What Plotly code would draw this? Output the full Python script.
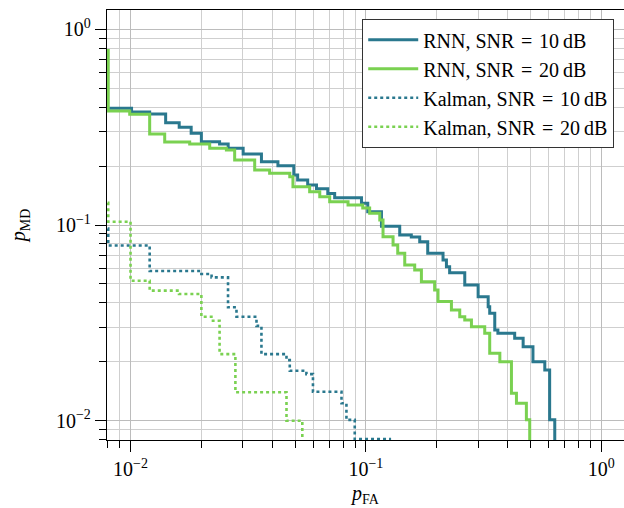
import plotly.graph_objects as go

# ---- data ----
rnn10_pfa = [0.005, 0.0101, 0.01206, 0.0141, 0.0161, 0.0181, 0.0200, 0.0239, 0.0260, 0.0301,
             0.0360, 0.0423, 0.0494, 0.0513, 0.0566, 0.0617, 0.0689, 0.0737, 0.0958, 0.1019,
             0.1165, 0.1393, 0.156, 0.1694, 0.1832, 0.2128, 0.220, 0.227, 0.2632, 0.300,
             0.331, 0.336, 0.353, 0.364, 0.429, 0.466, 0.513, 0.576, 0.604, 0.635]
rnn10_pmd = [0.395, 0.378, 0.369, 0.333, 0.316, 0.294, 0.2665, 0.259, 0.2465, 0.2306,
             0.2106, 0.201, 0.180, 0.170, 0.160, 0.153, 0.145, 0.138, 0.129, 0.1169,
             0.0985, 0.0889, 0.0868, 0.0821, 0.0717, 0.0662, 0.0612, 0.057, 0.0494, 0.0430,
             0.0382, 0.0354, 0.0291, 0.0280, 0.0264, 0.0239, 0.0200, 0.01816, 0.0101, 0.005]

rnn20_pfa = [0.005, 0.00804, 0.00992, 0.01206, 0.01397, 0.01784, 0.0217, 0.02555, 0.0277, 0.0337,
             0.039, 0.0475, 0.049, 0.0577, 0.0637, 0.0702, 0.084, 0.097, 0.1038, 0.1146,
             0.1183, 0.1305, 0.1366, 0.1463, 0.1613, 0.1722, 0.196, 0.2026, 0.231, 0.2506,
             0.2632, 0.281, 0.32, 0.336, 0.371, 0.4156, 0.4365, 0.481, 0.497]
rnn20_pmd = [0.78, 0.382, 0.368, 0.2917, 0.2655, 0.259, 0.2465, 0.2416, 0.2148, 0.191,
             0.1837, 0.1765, 0.157, 0.148, 0.1395, 0.1315, 0.1265, 0.122, 0.1148, 0.106,
             0.0871, 0.079, 0.0717, 0.0625, 0.0589, 0.0513, 0.0465, 0.0406, 0.0368, 0.034,
             0.0327, 0.0302, 0.028, 0.0221, 0.020, 0.0138, 0.01227, 0.0101, 0.005]

kal10_pfa = [0.005, 0.00804, 0.01206, 0.0200, 0.0221, 0.02596, 0.0282, 0.0343, 0.0360,
             0.0460, 0.0475, 0.0559, 0.0596, 0.0788, 0.0827, 0.0897, 0.128]
kal10_pmd = [0.096, 0.0786, 0.0582, 0.0562, 0.054, 0.038, 0.034, 0.0305, 0.0219,
             0.0204, 0.018, 0.0173, 0.01406, 0.01227, 0.0101, 0.00805, 0.00805]

kal20_pfa = [0.005, 0.00804, 0.0100, 0.01206, 0.01607, 0.0200, 0.0224, 0.0239, 0.0279, 0.0460, 0.0537]
kal20_pmd = [0.13, 0.1039, 0.0519, 0.0462, 0.0444, 0.034, 0.0324, 0.0219, 0.01397, 0.0100, 0.005]

names = ["RNN, SNR\u2004=\u200410\u2009dB", "RNN, SNR\u2004=\u200420\u2009dB",
         "Kalman, SNR\u2004=\u200410\u2009dB", "Kalman, SNR\u2004=\u200420\u2009dB"]

x_tickvals = [0.01, 0.1, 1]
x_ticktext = ["10<sup>\u22122</sup>", "10<sup>\u22121</sup>", "10<sup>0</sup>"]
y_tickvals = [0.01, 0.1, 1]
y_ticktext = ["10<sup>\u22122</sup>", "10<sup>\u22121</sup>", "10<sup>0</sup>"]

TEAL = "#2a788e"
GREEN = "#7ad151"
FONT = "Liberation Serif"

fig = go.Figure()
series = [
    (rnn10_pfa, rnn10_pmd, TEAL, "solid", 3),
    (rnn20_pfa, rnn20_pmd, GREEN, "solid", 3),
    (kal10_pfa, kal10_pmd, TEAL, "dot", 2.6),
    (kal20_pfa, kal20_pmd, GREEN, "dot", 2.6),
]
for (xs, ys, col, dash, w), nm in zip(series, names):
    fig.add_trace(go.Scatter(x=xs, y=ys, mode="lines", name=nm,
                             line=dict(color=col, width=w, dash=dash, shape="hv")))

axis_common = dict(
    type="log",
    ticks="outside", ticklen=11, tickwidth=1.2, tickcolor="black",
    showline=True, linecolor="black", linewidth=1.3, mirror=True,
    showgrid=True, gridcolor="#bcbcbc", gridwidth=1, zeroline=False,
    minor=dict(dtick="D1", ticks="outside", ticklen=7, tickwidth=1.1, tickcolor="black",
               showgrid=True, gridcolor="#cfcfcf", gridwidth=1),
    tickfont=dict(family=FONT, size=20, color="black"),
)

fig.update_layout(
    width=624, height=508,
    margin=dict(l=107, r=0, t=10, b=68),
    paper_bgcolor="white", plot_bgcolor="white",
    showlegend=True,
    legend=dict(x=0.9807, xanchor="right", y=0.979, yanchor="top",
                bgcolor="white", bordercolor="#333333", borderwidth=1.2,
                font=dict(family=FONT, size=20, color="black"), itemwidth=50),
    xaxis=dict(axis_common, range=[-2.1, 0.097], tickmode="array",
               tickvals=x_tickvals, ticktext=x_ticktext,
               title=dict(text="<i>p</i><sub>FA</sub>", font=dict(family=FONT, size=20, color="black"), standoff=6)),
    yaxis=dict(axis_common, range=[-2.0986, 0.0986], tickmode="array",
               tickvals=y_tickvals, ticktext=y_ticktext,
               title=dict(text="<i>p</i><sub>MD</sub>", font=dict(family=FONT, size=20, color="black"), standoff=24)),
)

fig.write_html("out.html")
